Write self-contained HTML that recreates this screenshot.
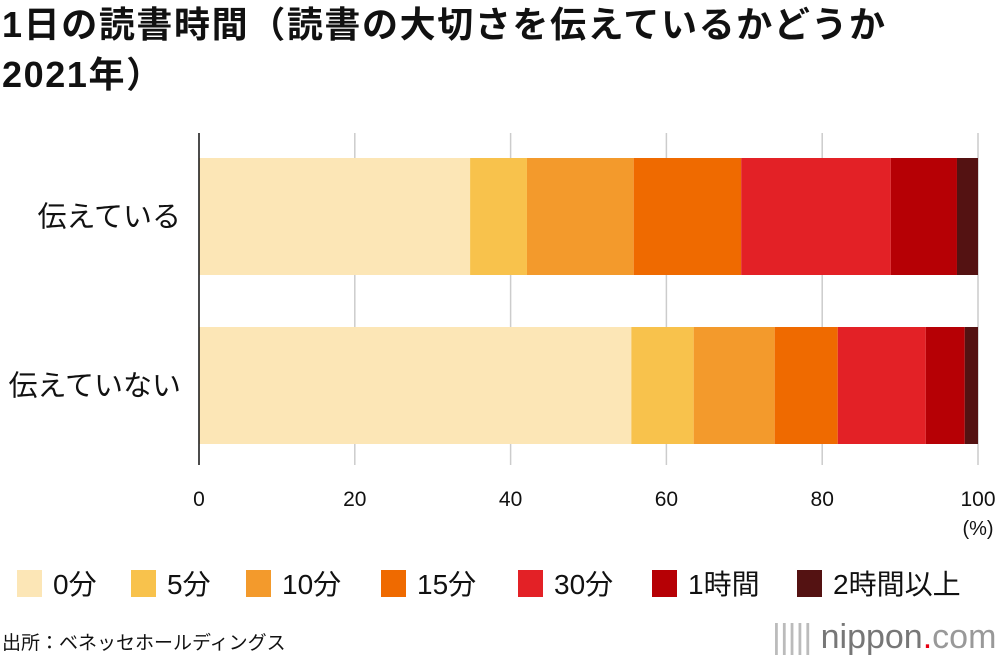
<!DOCTYPE html>
<html><head><meta charset="utf-8"><style>
body{margin:0;width:1000px;height:666px;background:#fff;overflow:hidden;font-family:"Liberation Sans","Noto Sans CJK JP",sans-serif;position:relative}
.t{position:absolute;white-space:nowrap;color:#111}
</style></head><body>
<div class="t" style="left:2px;top:0px;font-size:36px;font-weight:bold;line-height:50px;letter-spacing:1.6px">1日の読書時間（読書の大切さを伝えているかどうか<br>2021年）</div>
<svg id="chart" width="1000" height="666" style="position:absolute;left:0;top:0"></svg>
<div class="t" style="left:2px;top:628px;font-size:19px">出所：ベネッセホールディングス</div>
<div class="t" style="left:772px;top:618px;font-size:34px;color:#777"><span style="letter-spacing:-1px;color:#bbb">|||||</span> nippon<span style="color:#e60012">.</span><span style="color:#999">com</span></div>
<script>
const categories=["伝えている","伝えていない"];
const seriesNames=["0分","5分","10分","15分","30分","1時間","2時間以上"];
const s0=[34.8,55.5];
const s1=[7.3,8.0];
const s2=[13.7,10.4];
const s3=[13.8,8.1];
const s4=[19.2,11.3];
const s5=[8.5,5.0];
const s6=[2.7,1.7];
const ticks=[0,20,40,60,80,100];
const colors=["#fce6b6","#f8c24c","#f39a2c","#ef6a00","#e32126","#b60005","#541212"];
const series=[s0,s1,s2,s3,s4,s5,s6];
const svg=document.getElementById('chart');const NS="http://www.w3.org/2000/svg";
const x=v=>199+v*7.79;
const yTop=[158,327],bh=117;
function mk(t,a){const e=document.createElementNS(NS,t);for(const k in a)e.setAttribute(k,a[k]);svg.appendChild(e);return e;}
ticks.forEach(v=>{if(v>0){const g=mk('line',{x1:x(v),x2:x(v),y1:133,y2:465,stroke:'#ccc','stroke-width':1.5});}
const t=mk('text',{x:x(v),y:506,'text-anchor':'middle','font-size':21,fill:'#111'});t.textContent=v;

});
const pc=mk('text',{x:x(100),y:535,'text-anchor':'middle','font-size':20,fill:'#111'});pc.textContent='(%)';


categories.forEach((c,i)=>{let acc=0;series.forEach((s,j)=>{const r=mk('rect',{x:x(acc),y:yTop[i],width:x(acc+s[i])-x(acc),height:bh,fill:colors[j]});


acc+=s[i];});
const l=mk('text',{x:181,y:yTop[i]+bh/2+10,'text-anchor':'end','font-size':29,fill:'#111'});l.textContent=c;

});
const ax=mk('line',{x1:199,x2:199,y1:133,y2:465,stroke:'#111','stroke-width':1.5});


const lx=[17,131,246,381,518,652,797];
seriesNames.forEach((n,j)=>{const r=mk('rect',{x:lx[j],y:570,width:25,height:27,fill:colors[j]});


const t=mk('text',{x:lx[j]+36,y:594,'font-size':28,fill:'#111'});t.textContent=n;

});
</script>
</body></html>
